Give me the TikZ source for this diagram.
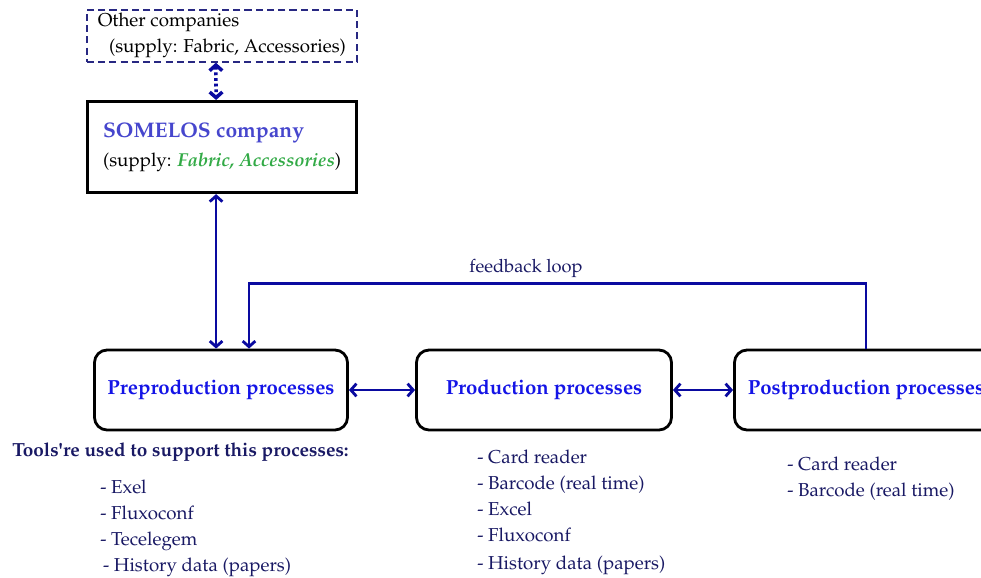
\documentclass[tikz,border=0pt]{standalone}
\usepackage[T1]{fontenc}
\usepackage{mathpazo}
\usetikzlibrary{arrows.meta}

\definecolor{arrnavy}{RGB}{10,10,160}
\definecolor{dashnavy}{RGB}{40,40,130}
\definecolor{txtnavy}{RGB}{25,25,100}
\definecolor{somblue}{RGB}{70,70,205}
\definecolor{procblue}{RGB}{20,20,230}
\definecolor{supgreen}{RGB}{50,170,70}

\tikzset{
    procbox/.style={draw, line width=2pt, rounded corners=9pt,
        minimum width=6.325cm, minimum height=2cm, text=procblue,
        font=\bfseries\fontsize{14.5}{16}\selectfont},
    link/.style={{Straight Barb[length=4pt,width=9pt]}-{Straight Barb[length=4pt,width=9pt]},
        line width=2pt, draw=arrnavy},
    toollist/.style={anchor=north west, align=left, text=txtnavy, inner sep=0pt,
        font=\fontsize{13.3}{18.3}\selectfont}
}

\begin{document}
\begin{tikzpicture}[x=0.025cm,y=-0.025cm]
    \useasboundingbox (0,0) rectangle (981,578);

    % suppliers
    \node[draw=dashnavy, dash pattern=on 5pt off 3pt, line width=1.2pt, anchor=north west, align=left,
          minimum width=6.75cm, minimum height=1.3cm, inner sep=0pt,
          font=\fontsize{13.3}{18.5}\selectfont] (other) at (86,9)
          {Other companies\hspace{5pt}\\\hspace{8pt}(supply: Fabric, Accessories)};
    \node[draw, line width=2.2pt, anchor=north west, align=left,
          minimum width=6.725cm, minimum height=2.275cm,
          font=\fontsize{13.3}{21}\selectfont] (som) at (86,100)
          {{\color{somblue}\bfseries\fontsize{15}{21}\selectfont SOMELOS company}\\
           (supply: {\color{supgreen}\bfseries\itshape Fabric, Accessories})};

    % processes
    \node[procbox] (pre) at (221,390) {Preproduction processes};
    \node[procbox, minimum width=6.375cm] (prod) at (544,390) {Production processes};
    \node[procbox, minimum width=6.575cm] (post) at (866,390) {Postproduction processes};

    \draw[link, dotted, line width=2.5pt] ([xshift=-0.15cm]other.south) -- ([xshift=-0.15cm]som.north);
    \draw[link] ([xshift=-0.15cm]som.south) -- ([xshift=-0.15cm]som.south |- pre.north);
    \draw[link] (pre) -- (prod);
    \draw[link] (prod) -- (post);

    % feedback loop
    \draw[line width=2pt, draw=arrnavy, -{Straight Barb[length=4pt,width=9pt]}]
        (post.north) -- ++(0,-65) -| ([xshift=0.7cm]pre.north);
    \node[text=txtnavy, font=\fontsize{13}{15}\selectfont] (fbl) at (526,268) {feedback loop};

    % tools
    \node[anchor=west, text=txtnavy, inner sep=0pt,
          font=\bfseries\fontsize{13.5}{16}\selectfont] (tools) at (12,452)
          {Tools{\textquotesingle}re used to support this processes:};
    \node[toollist] (prelist) at (100,480)
          {- Exel\\- Fluxoconf\\- Tecelegem\\\hspace{2pt}- History data (papers)};
    \node[toollist] (prodlist) at (477,450)
          {- Card reader\\- Barcode (real time)\\- Excel\\- Fluxoconf\\[2pt]- History data (papers)};
    \node[toollist] (postlist) at (787,457)
          {- Card reader\\- Barcode (real time)};
\end{tikzpicture}
\end{document}
